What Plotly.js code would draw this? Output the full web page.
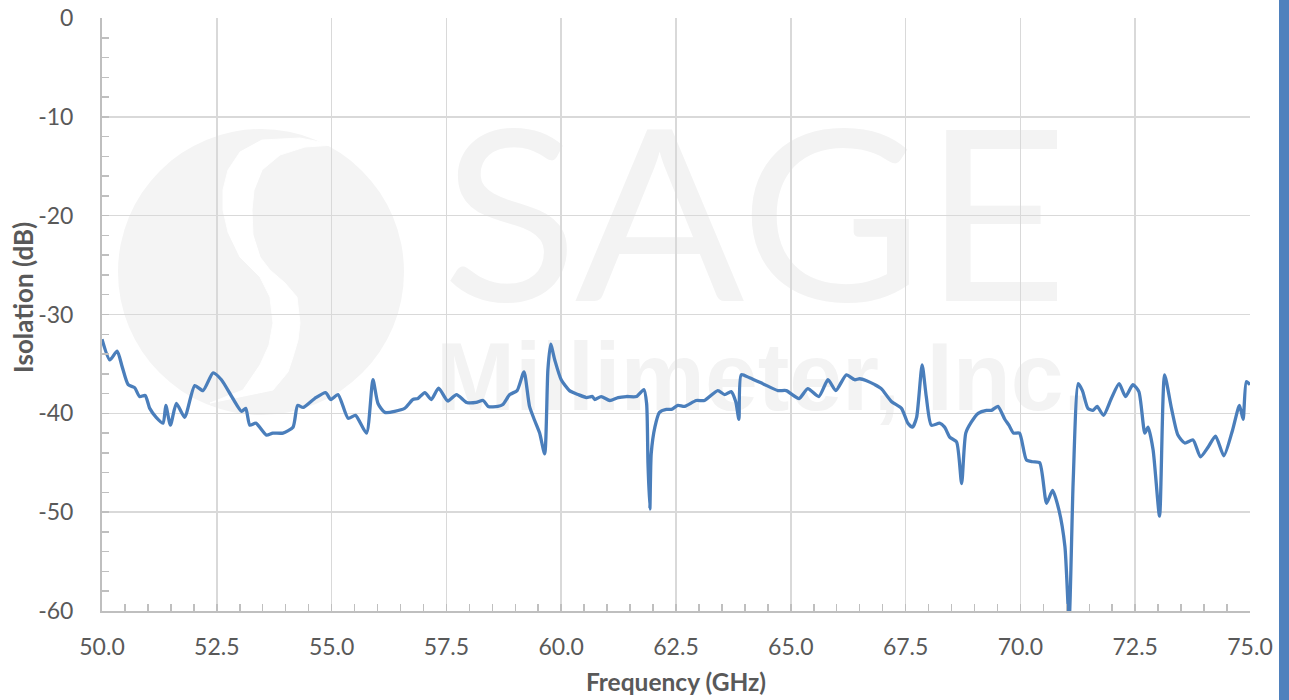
<!DOCTYPE html>
<html>
<head>
<meta charset="utf-8">
<script src="https://cdn.plot.ly/plotly-3.0.1.min.js"></script>
<style>
  html, body { margin: 0; padding: 0; background: #ffffff; }
  #wrap { position: relative; width: 1289px; height: 700px; overflow: hidden; }
  #mark { position: absolute; left: 0; top: 0; z-index: 0; }
  #chart { position: absolute; left: 0; top: 0; width: 1289px; height: 700px; z-index: 1; }
  #edge { position: absolute; left: 1279px; top: 0; width: 10px; height: 700px; background: #4f81bd; z-index: 2; }
</style>
</head>
<body>
<div id="wrap">
  <!-- company watermark behind the plot -->
  <svg id="mark" width="1289" height="700" xmlns="http://www.w3.org/2000/svg">
    <circle cx="261" cy="272" r="143" fill="#f4f4f4"/>
    <path fill="#ffffff" stroke="#ffffff" stroke-width="1" stroke-linejoin="round" d="
      M262,140 L240,152 L228,170 L223,190 L223,210 L228,232 L240,257 L260,277 L270,297
      L273,323 L269,345 L260,365 L243,390 L210,403
      L273,390 L288,372 L293,357 L298,340 L300,323 L297,297 L285,283 L270,270 L260,257
      L253,235 L252,210 L254,190 L262,170 L280,155 L305,147 L335,145 L300,138 Z"/>
    <text x="442" y="301" font-family="Lato, 'Open Sans', sans-serif" font-weight="400"
          font-size="238" fill="#f3f3f3" textLength="626" lengthAdjust="spacingAndGlyphs">SAGE</text>
    <text x="436" y="410" font-family="'Liberation Sans', Arial, sans-serif" font-weight="700"
          font-size="97" fill="#f3f3f3" textLength="654" lengthAdjust="spacingAndGlyphs">Millimeter, Inc.</text>
  </svg>
  <div id="chart"></div>
  <div id="edge"></div>
</div>
<script>
// Measured isolation versus frequency
const freqGHz = [
  50.00, 50.17, 50.33, 50.44, 50.57, 50.71, 50.82, 50.94, 51.04, 51.18,
  51.33, 51.39, 51.49, 51.62, 51.80, 52.02, 52.20, 52.42, 52.60, 52.85,
  53.04, 53.13, 53.22, 53.35, 53.58, 53.72, 53.94, 54.16, 54.26, 54.38,
  54.63, 54.87, 54.98, 55.14, 55.36, 55.52, 55.76, 55.90, 56.01, 56.16,
  56.59, 56.77, 56.88, 57.03, 57.17, 57.33, 57.53, 57.72, 57.94, 58.15,
  58.30, 58.41, 58.62, 58.73, 58.88, 59.04, 59.19, 59.31, 59.42, 59.53,
  59.64, 59.71, 59.77, 59.86, 60.00, 60.18, 60.37, 60.55, 60.68, 60.73,
  60.87, 61.06, 61.24, 61.42, 61.64, 61.80, 61.86, 61.89, 61.93, 61.96,
  62.04, 62.14, 62.29, 62.40, 62.54, 62.69, 62.94, 63.12, 63.41, 63.56,
  63.70, 63.80, 63.87, 63.92, 64.10, 64.39, 64.72, 64.90, 65.18, 65.37,
  65.61, 65.81, 65.98, 66.21, 66.39, 66.50, 66.65, 66.83, 66.97, 67.19,
  67.41, 67.55, 67.65, 67.74, 67.86, 67.95, 68.06, 68.24, 68.35, 68.46,
  68.61, 68.72, 68.81, 68.93, 69.08, 69.26, 69.37, 69.51, 69.66, 69.75,
  69.85, 69.98, 70.13, 70.27, 70.42, 70.57, 70.70, 70.84, 70.97, 71.06,
  71.15, 71.26, 71.35, 71.47, 71.58, 71.67, 71.81, 71.98, 72.15, 72.29,
  72.45, 72.58, 72.71, 72.78, 72.89, 73.03, 73.14, 73.29, 73.43, 73.58,
  73.76, 73.92, 74.09, 74.25, 74.43, 74.62, 74.77, 74.85, 74.92, 75.00
];
const isolationDb = [
  -32.5, -34.6, -33.7, -35.3, -37.1, -37.4, -38.3, -38.2, -39.5, -40.4,
  -41.0, -39.2, -41.2, -39.0, -40.4, -37.2, -37.7, -35.9, -36.6, -38.5,
  -39.8, -39.5, -41.2, -41.0, -42.2, -42.0, -42.0, -41.4, -39.2, -39.4,
  -38.5, -37.9, -38.6, -38.1, -40.5, -40.2, -42.0, -36.6, -39.0, -39.9,
  -39.5, -38.6, -38.5, -37.9, -38.6, -37.45, -38.75, -38.1, -38.9, -38.9,
  -38.7, -39.3, -39.3, -39.1, -38.1, -37.7, -35.8, -39.3, -40.7, -42.0,
  -44.1, -35.6, -33.0, -34.6, -36.6, -37.7, -38.1, -38.4, -38.3, -38.6,
  -38.3, -38.7, -38.4, -38.3, -38.3, -37.6, -39.0, -45.1, -49.7, -44.1,
  -41.4, -39.9, -39.6, -39.6, -39.2, -39.3, -38.7, -38.7, -37.7, -38.1,
  -37.8, -38.8, -40.6, -36.1, -36.4, -37.0, -37.7, -37.7, -38.5, -37.5,
  -38.3, -36.6, -37.7, -36.1, -36.6, -36.5, -36.7, -37.1, -37.5, -38.8,
  -39.5, -41.0, -41.4, -40.4, -35.1, -38.3, -41.2, -41.0, -41.4, -42.4,
  -42.9, -47.1, -42.0, -40.9, -40.0, -39.7, -39.7, -39.3, -40.6, -41.2,
  -42.0, -42.0, -44.7, -44.9, -45.0, -49.1, -47.8, -49.8, -53.5, -61.0,
  -46.8, -37.0, -37.7, -39.5, -39.7, -39.3, -40.2, -38.5, -37.0, -38.3,
  -37.1, -37.8, -42.0, -41.4, -43.7, -50.4, -36.1, -39.5, -42.2, -43.0,
  -42.7, -44.4, -43.4, -42.3, -44.3, -41.7, -39.2, -40.6, -36.8, -37.1
];

// Axis tick positions and their printed labels (plain hyphen minus)
const yTickVals = [0, -10, -20, -30, -40, -50, -60];
const yTickText = ['0', '-10', '-20', '-30', '-40', '-50', '-60'];

const xTitle = 'Frequency (GHz)';
const yTitle = 'Isolation (dB)';

const family = 'Lato, "Open Sans", sans-serif';
const labelFont = { family: family, size: 23, color: '#595959' };
const titleFont = { family: family, size: 24.5, color: '#595959', weight: 700 };
const gridGray = '#d9d9d9';
const axisGray = '#bfbfbf';

const trace = {
  x: freqGHz,
  y: isolationDb,
  type: 'scatter',
  mode: 'lines',
  line: { color: '#4a7ebb', width: 3.3, shape: 'spline', smoothing: 0.6 },
  hoverinfo: 'x+y'
};

const layout = {
  width: 1289,
  height: 700,
  margin: { l: 102, r: 39, t: 18, b: 89, pad: 0 },
  paper_bgcolor: 'rgba(0,0,0,0)',
  plot_bgcolor: 'rgba(0,0,0,0)',
  showlegend: false,
  xaxis: {
    range: [50, 75],
    tick0: 50,
    dtick: 2.5,
    tickformat: '.1f',
    showgrid: true,
    gridcolor: gridGray,
    gridwidth: 1.5,
    zeroline: false,
    showline: true,
    linecolor: axisGray,
    linewidth: 2,
    ticks: 'inside',
    ticklen: 7,
    tickwidth: 1.5,
    tickcolor: axisGray,
    minor: { dtick: 0.5, ticks: 'inside', ticklen: 7, tickwidth: 1.5, tickcolor: axisGray, showgrid: false },
    tickfont: labelFont,
    ticklabelstandoff: 14,
    title: { text: xTitle, font: titleFont, standoff: 15 },
    fixedrange: true
  },
  yaxis: {
    range: [-60, 0],
    tickmode: 'array',
    tickvals: yTickVals,
    ticktext: yTickText,
    showgrid: true,
    gridcolor: gridGray,
    gridwidth: 1.5,
    zeroline: false,
    showline: true,
    linecolor: axisGray,
    linewidth: 2,
    ticks: 'inside',
    ticklen: 7,
    tickwidth: 1.5,
    tickcolor: axisGray,
    minor: { dtick: 2, ticks: 'inside', ticklen: 7, tickwidth: 1.5, tickcolor: axisGray, showgrid: false },
    tickfont: labelFont,
    ticklabelstandoff: 22,
    fixedrange: true
  },
  annotations: [{
    text: yTitle,
    xref: 'paper', yref: 'paper',
    x: 0, y: 0.528,
    xanchor: 'center', yanchor: 'middle',
    xshift: -79,
    textangle: -90,
    showarrow: false,
    font: { family: family, size: 26, color: '#595959', weight: 700 }
  }]
};

Plotly.newPlot('chart', [trace], layout, { displayModeBar: false, staticPlot: true });
</script>
</body>
</html>
